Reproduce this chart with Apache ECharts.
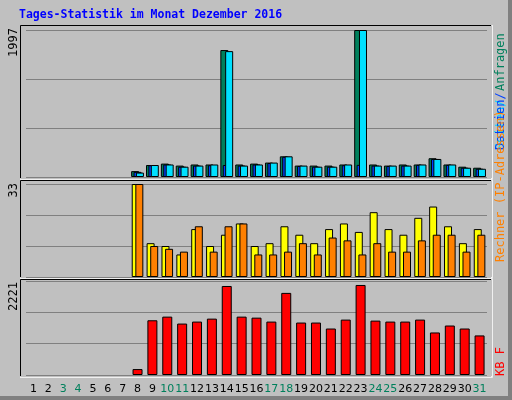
<!DOCTYPE html>
<html><head><meta charset="utf-8">
<script src="https://cdn.jsdelivr.net/npm/echarts@6/dist/echarts.min.js"></script>
<style>html,body{margin:0;padding:0;background:#c0c0c0}#c{width:512px;height:400px}</style>
</head><body><div id="c"></div>
<script>
const days = Array.from({length:31},(_,i)=>String(i+1));
const weekend = [3,4,10,11,17,18,24,25,31];
const hits  = [0,0,0,0,0,0,0,80,163,182,155,170,170,1725,170,182,196,281,155,155,155,170,1997,170,155,170,170,255,170,140,126];
const files = [0,0,0,0,0,0,0,70,160,170,140,155,160,163,155,170,190,275,150,140,140,160,165,155,150,155,165,245,165,126,112];
const pages = [0,0,0,0,0,0,0,60,163,170,140,155,170,1710,155,170,196,281,155,140,140,170,1997,155,155,155,170,245,170,126,112];
const visits= [0,0,0,0,0,0,0,33,12,11,8,17,11,15,19,11,12,18,15,12,17,19,16,23,17,15,21,25,18,12,17];
const sites = [0,0,0,0,0,0,0,33,11,10,9,18,9,18,19,8,8,9,12,8,14,13,8,12,9,9,13,15,15,9,15];
const kbytes= [0,0,0,0,0,0,0,140,1293,1379,1215,1262,1332,2103,1379,1355,1262,1940,1239,1239,1098,1309,2127,1285,1262,1262,1309,1005,1169,1098,935];
const maxLabels = ['1997','33','2221'];
const maxVals = [1997,33,2221];
const z = v => v===0 ? null : v;
const ch = echarts.init(document.getElementById('c'));
const grids = [{top:30,height:147},{top:184,height:93},{top:281,height:94}];
const mono = 'DejaVu Sans Mono';
const bs = (c)=>({color:c,borderColor:'#000',borderWidth:1});
ch.setOption({
  backgroundColor:'#c0c0c0',
  animation:false,
  grid: grids.map(g=>({left:26,width:461,top:g.top,height:g.height})),
  xAxis:[0,1,2].map(i=>({type:'category',data:days,gridIndex:i,
    axisLine:{show:false},axisTick:{show:false},
    axisLabel:{show:i===2,interval:0,margin:9,fontFamily:'DejaVu Sans',fontSize:11,
      color:(v)=>weekend.includes(+v)?'#00805c':'#000'}})),
  yAxis:[0,1,2].map(i=>({type:'value',gridIndex:i,min:0,max:maxVals[i],interval:maxVals[i]/3,
    axisLabel:{show:false},axisLine:{show:false},axisTick:{show:false},
    splitLine:{lineStyle:{color:'#808080',width:1}}})),
  series:[
    {type:'bar',xAxisIndex:0,yAxisIndex:0,data:hits.map(z),barWidth:8,barGap:'-70%',itemStyle:bs('#00805c')},
    {type:'bar',xAxisIndex:0,yAxisIndex:0,data:files.map(z),barWidth:8,barGap:'-70%',itemStyle:bs('#0040ff')},
    {type:'bar',xAxisIndex:0,yAxisIndex:0,data:pages.map(z),barWidth:8,barGap:'-70%',itemStyle:bs('#00e0ff')},
    {type:'bar',xAxisIndex:1,yAxisIndex:1,data:visits.map(z),barWidth:8,barGap:'-55%',itemStyle:bs('#ffff00')},
    {type:'bar',xAxisIndex:1,yAxisIndex:1,data:sites.map(z),barWidth:8,barGap:'-55%',itemStyle:bs('#ff8000')},
    {type:'bar',xAxisIndex:2,yAxisIndex:2,data:kbytes.map(z),barWidth:10,itemStyle:bs('#ff0000')}
  ],
  graphic:[
    {type:'rect',shape:{x:508,y:0,width:4,height:400},style:{fill:'#808080'},z:-1},
    {type:'rect',shape:{x:0,y:396,width:512,height:4},style:{fill:'#808080'},z:-1},
    {type:'rect',shape:{x:20.5,y:25.5,width:471,height:153},style:{fill:null,stroke:'#000'},z:-1},
    {type:'polyline',shape:{points:[[20,179],[492,179],[492,25]]},style:{stroke:'#fff',lineWidth:1.5}},
    {type:'rect',shape:{x:20.5,y:180.5,width:471,height:97},style:{fill:null,stroke:'#000'},z:-1},
    {type:'polyline',shape:{points:[[20,278],[492,278],[492,180]]},style:{stroke:'#fff',lineWidth:1.5}},
    {type:'rect',shape:{x:20.5,y:279.5,width:471,height:97},style:{fill:null,stroke:'#000'},z:-1},
    {type:'polyline',shape:{points:[[20,377],[492,377],[492,279]]},style:{stroke:'#fff',lineWidth:1.5}},
    {type:'text',x:19,y:9,style:{text:'Tages-Statistik im Monat Dezember 2016',fill:'#0000ff',font:'bold 11.5px '+mono}},
    {type:'text',x:14,y:28,rotation:Math.PI/2,style:{text:maxLabels[0],fill:'#000',font:'12px '+mono,align:'right',verticalAlign:'middle'}},
    {type:'text',x:14,y:183,rotation:Math.PI/2,style:{text:maxLabels[1],fill:'#000',font:'12px '+mono,align:'right',verticalAlign:'middle'}},
    {type:'text',x:14,y:282,rotation:Math.PI/2,style:{text:maxLabels[2],fill:'#000',font:'12px '+mono,align:'right',verticalAlign:'middle'}},
    {type:'text',x:501,y:150,rotation:Math.PI/2,style:{text:'Seiten/',fill:'#00e0ff',font:'12px '+mono,align:'left',verticalAlign:'middle'}},
    {type:'text',x:501,y:150,rotation:Math.PI/2,style:{text:'Dateien/',fill:'#0040ff',font:'12px '+mono,align:'left',verticalAlign:'middle'}},
    {type:'text',x:501,y:91,rotation:Math.PI/2,style:{text:'Anfragen',fill:'#00805c',font:'12px '+mono,align:'left',verticalAlign:'middle'}},
    {type:'text',x:501,y:262,rotation:Math.PI/2,style:{text:'Rechner (IP-Adressen)',fill:'#ff8000',font:'12px '+mono,align:'left',verticalAlign:'middle'}},
    {type:'text',x:501,y:376,rotation:Math.PI/2,style:{text:'KB F',fill:'#ff0000',font:'12px '+mono,align:'left',verticalAlign:'middle'}}
  ]
});
</script></body></html>
